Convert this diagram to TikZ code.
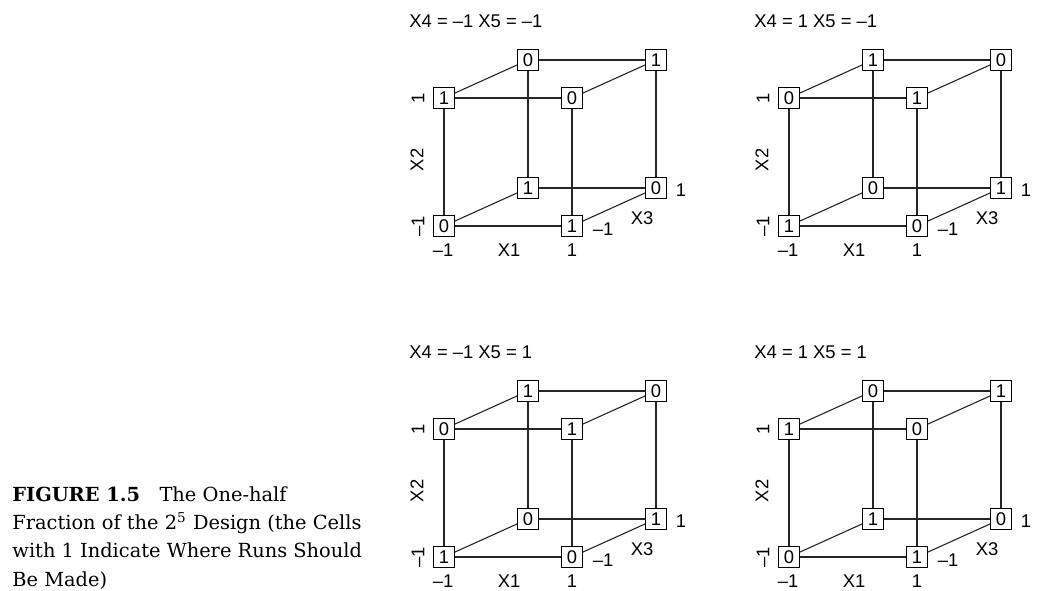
\documentclass[tikz,border=0pt]{standalone}
\usepackage{fontspec}
\setmainfont{DejaVu Serif}
\setsansfont{Liberation Sans}
\usepackage{tikz}
\usetikzlibrary{positioning}

\begin{document}
\begin{tikzpicture}[x=0.5pt,y=-0.5pt,
    cell/.style={draw,fill=white,line width=0.5pt,minimum size=10.5pt,inner sep=0pt,
        font=\sffamily\fontsize{9.2}{9.2}\selectfont},
    lbl/.style={font=\sffamily\fontsize{9.2}{9.2}\selectfont,inner sep=0pt},
    edge/.style={line width=0.55pt,draw=black!85}]
\useasboundingbox (0,0) rectangle (1038,590);
% one cube for every (X4,X5) setting
\foreach \n/\cx/\cy/\ttl/\ftl/\ftr/\btl/\btr/\fbl/\fbr/\bbl/\bbr in {
    1/444/226/{X4 = –1 X5 = –1}/1/0/0/1/0/1/1/0,
    2/789/226/{X4 = 1 X5 = –1}/0/1/1/0/1/0/0/1,
    3/444/557/{X4 = –1 X5 = 1}/0/1/1/0/1/0/0/1,
    4/789/557/{X4 = 1 X5 = 1}/1/0/0/1/0/1/1/0} {
\begin{scope}[shift={(\cx,\cy)}]
\node[lbl,anchor=west] (t\n) at (-35,-205) {\ttl};
% cells
\node[cell] (c\n-fbl) at (0,0) {\fbl};
\node[cell] (c\n-fbr) at (128,0) {\fbr};
\node[cell] (c\n-ftl) at (0,-128) {\ftl};
\node[cell] (c\n-ftr) at (128,-128) {\ftr};
\node[cell] (c\n-bbl) at (84,-38) {\bbl};
\node[cell] (c\n-bbr) at (212,-38) {\bbr};
\node[cell] (c\n-btl) at (84,-166) {\btl};
\node[cell] (c\n-btr) at (212,-166) {\btr};
% edges
\draw[edge] (c\n-ftl) -- (c\n-ftr) (c\n-btl) -- (c\n-btr)
    (c\n-fbl) -- (c\n-fbr) (c\n-bbl) -- (c\n-bbr);
\draw[edge] (c\n-ftl) -- (c\n-fbl) (c\n-ftr) -- (c\n-fbr)
    (c\n-btl) -- (c\n-bbl) (c\n-btr) -- (c\n-bbr);
\draw[edge] (c\n-ftl) -- (c\n-btl) (c\n-ftr) -- (c\n-btr)
    (c\n-fbl) -- (c\n-bbl) (c\n-fbr) -- (c\n-bbr);
% axis labels
\node[lbl,rotate=90] (y\n-hi) at (-26,-128) {1};
\node[lbl,rotate=90] (y\n-lo) at (-26,0) {–1};
\node[lbl,rotate=90] (y\n-nm) at (-27,-66) {X2};
\node[lbl] (x\n-lo) at (-1,24) {–1};
\node[lbl] (x\n-nm) at (65,24) {X1};
\node[lbl] (x\n-hi) at (128,24) {1};
\node[lbl] (z\n-lo) at (159,3) {–1};
\node[lbl] (z\n-nm) at (198,-8) {X3};
\node[lbl] (z\n-hi) at (237,-36) {1};
\end{scope}
}
% caption
\node[anchor=north west,align=left,inner sep=0pt,
    font=\fontsize{9.7}{14.2}\selectfont] (cap) at (12,486) {%
    \textbf{FIGURE 1.5}\quad The One-half\\
    Fraction of the 2\textsuperscript{5} Design (the Cells\\
    with 1 Indicate Where Runs Should\\
    Be Made)};
\end{tikzpicture}
\end{document}
